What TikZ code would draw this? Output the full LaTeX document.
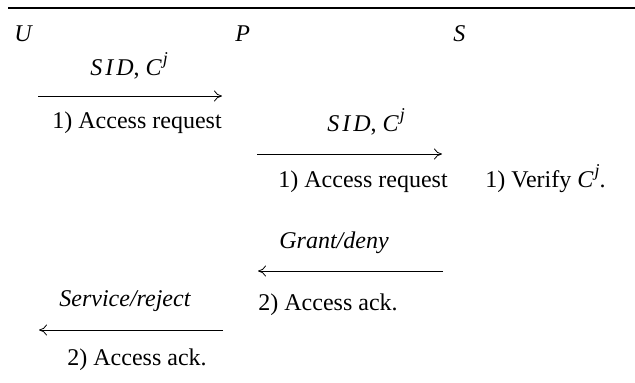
\documentclass[tikz,border=0pt]{standalone}
\usepackage{fontspec}
\setmainfont{Liberation Serif}
\usetikzlibrary{arrows.meta}
\newcommand{\mySID}{\textit{S\kern1.5pt I\kern1.5pt D}}
\newcommand{\myCj}{\textit{C}\kern0.5pt\raisebox{0.42em}{\fontsize{9}{9}\selectfont\textit{j}}}
\begin{document}
\begin{tikzpicture}[x=0.5pt,y=-0.5pt,
  lbl/.style={inner sep=0pt,anchor=base west,font=\fontsize{12}{14}\selectfont},
  msg/.style={line width=0.4pt,-{To[length=4pt,width=5.5pt]}}]
\useasboundingbox (0,0) rectangle (635,382);
\draw[line width=0.7pt] (8,8) coordinate (r1) -- (635,8) coordinate (r2);
\node[lbl] (U) at (14,41) {\textit{U}};
\node[lbl] (P) at (235,41) {\textit{P}};
\node[lbl] (S) at (453,41) {\textit{S}};
% message 1
\node[lbl] (m1) at (90,75) {\mySID, \myCj};
\coordinate (a1s) at (38,96); \coordinate (a1e) at (222,96);
\draw[msg] (a1s) -- (a1e);
\node[lbl] (l1) at (52,128) {1) Access request};
% message 2
\node[lbl] (m2) at (327,131) {\mySID, \myCj};
\coordinate (a2s) at (257,154); \coordinate (a2e) at (442,154);
\draw[msg] (a2s) -- (a2e);
\node[lbl] (l2) at (278,187) {1) Access request};
\node[lbl] (v) at (485,187) {1) Verify \myCj.};
% message 3
\node[lbl] (m3) at (279,248) {\textit{Grant/deny}};
\coordinate (a3s) at (443,271); \coordinate (a3e) at (258,271);
\draw[msg] (a3s) -- (a3e);
\node[lbl] (l3) at (258,310) {2) Access ack.};
% message 4
\node[lbl] (m4) at (59,306) {\textit{Service/reject}};
\coordinate (a4s) at (223,330); \coordinate (a4e) at (39,330);
\draw[msg] (a4s) -- (a4e);
\node[lbl] (l4) at (67,365) {2) Access ack.};
\end{tikzpicture}
\end{document}
